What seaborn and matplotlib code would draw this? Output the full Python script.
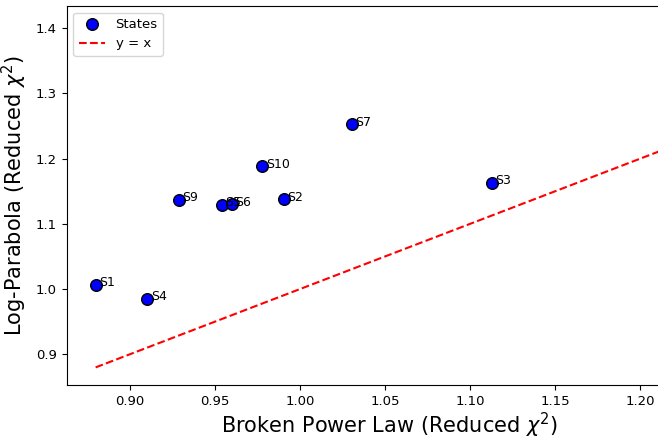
import matplotlib
matplotlib.use('Agg')
import matplotlib.pyplot as plt
import seaborn as sns
import pandas as pd

# Valores
estados = ["S1", "S2", "S3", "S4", "S5", "S6", "S7", "S9", "S10"]
chi2_bpl = [0.880, 0.9905, 1.1127, 0.9104, 0.954, 0.960, 1.0306, 0.929, 0.978]
chi2_lp = [1.006, 1.1375, 1.1626, 0.985, 1.1288, 1.130, 1.2526, 1.1365, 1.188]

df = pd.DataFrame({"estado": estados, "bpl": chi2_bpl, "lp": chi2_lp})

plt.rcParams['font.family'] = ['DejaVu Sans']

fig = plt.figure(figsize=(6.58, 4.36), dpi=100)
# el original está recortado por la derecha: el eje sigue más allá del borde
ax = fig.add_axes([66.7 / 658, 1 - 385 / 436, 646 / 658, 379 / 436])

sns.scatterplot(data=df, x="bpl", y="lp", ax=ax, color="blue", edgecolor="black",
                s=70, linewidth=1, label="States", zorder=3)

# Línea y = x
lo = min(min(chi2_bpl), min(chi2_lp))
hi = max(max(chi2_bpl), max(chi2_lp))
ax.plot([lo, hi], [lo, hi], "r--", linewidth=1.5, label="y = x")

for _, fila in df.iterrows():
    ax.text(fila["bpl"] + 0.002, fila["lp"] - 0.002, fila["estado"], fontsize=9)

ax.set_xlim(0.863, 1.2426)
ax.set_ylim(0.853, 1.434)
ax.set_xticks([0.90, 0.95, 1.00, 1.05, 1.10, 1.15, 1.20])
ax.set_yticks([0.9, 1.0, 1.1, 1.2, 1.3, 1.4])
ax.tick_params(labelsize=9.5)
ax.set_xlabel(r"Broken Power Law (Reduced $\chi^2$)", fontsize=15, labelpad=2)
ax.set_ylabel(r"Log-Parabola (Reduced $\chi^2$)", fontsize=15, labelpad=5)
ax.legend(loc="upper left", fontsize=9.5)

plt.savefig("out.png", dpi=100)
plt.close()
